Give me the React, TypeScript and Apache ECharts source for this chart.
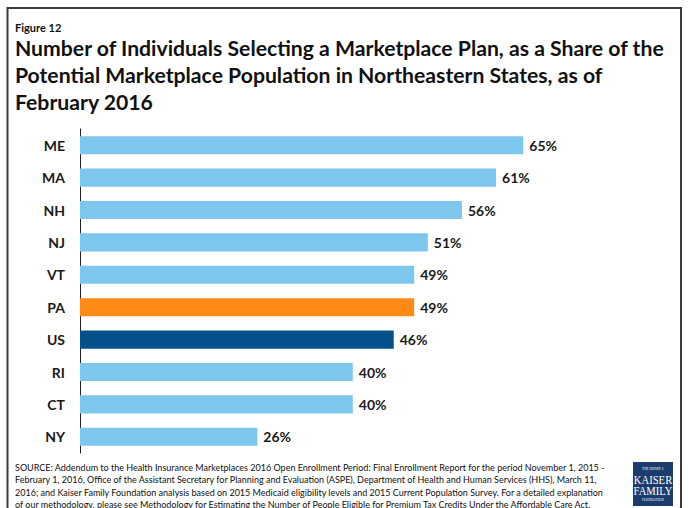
import React, { useEffect, useRef } from "react";
import * as echarts from "echarts";

const categories = ["ME", "MA", "NH", "NJ", "VT", "PA", "US", "RI", "CT", "NY"];
const values = [65, 61, 56, 51, 49, 49, 46, 40, 40, 26];
const highlightColors: Record<string, string> = { PA: "#fd8a14", US: "#03508a" };
const baseColor = "#7dc6ee";

const figureLabel = "Figure 12";
const titleLines = [
  "Number of Individuals Selecting a Marketplace Plan, as a Share of the",
  "Potential Marketplace Population in Northeastern States, as of",
  "February 2016",
];
const sourceLines = [
  "SOURCE: Addendum to the Health Insurance Marketplaces 2016 Open Enrollment Period: Final Enrollment Report for the period November 1, 2015 -",
  "February 1, 2016, Office of the Assistant Secretary for Planning and Evaluation (ASPE), Department of Health and Human Services (HHS), March 11,",
  "2016; and Kaiser Family Foundation analysis based on 2015 Medicaid eligibility levels and 2015 Current Population Survey. For a detailed explanation",
  "of our methodology, please see Methodology for Estimating the Number of People Eligible for Premium Tax Credits Under the Affordable Care Act.",
];
const logoLines = ["THE HENRY J.", "KAISER", "FAMILY", "FOUNDATION"];

const FONT = "Lato, 'Open Sans', sans-serif";
const SERIF = "'Liberation Serif', 'DejaVu Serif', serif";

export default function App() {
  const ref = useRef<HTMLDivElement>(null);
  useEffect(() => {
    if (!ref.current) return;
    const chart = echarts.init(ref.current, undefined, { renderer: "svg" });
    const graphic: any[] = [
      {
        type: "rect",
        shape: { x: 7.5, y: 8, width: 673.5, height: 520 },
        style: { fill: "none", stroke: "#3a3a3a", lineWidth: 2 },
        silent: true,
      },
      {
        type: "text",
        x: 15,
        y: 22,
        style: { text: figureLabel, font: `bold 11px ${FONT}`, fill: "#111" },
      },
      ...titleLines.map((t, i) => ({
        type: "text",
        x: 15,
        y: 37 + i * 27,
        style: { text: t, font: `bold 21.2px ${FONT}`, fill: "#111" },
      })),
      ...sourceLines.map((t, i) => ({
        type: "text",
        x: 15,
        y: 463 + i * 12.3,
        style: { text: t, font: `9px ${FONT}`, fill: "#111" },
      })),
      {
        type: "group",
        x: 633,
        y: 462,
        children: [
          { type: "rect", shape: { x: 0, y: 0, width: 40, height: 44 }, style: { fill: "#1d3c6e" } },
          { type: "text", x: 20, y: 5, scaleX: 0.85, style: { text: logoLines[0], font: `4px ${SERIF}`, fill: "#fff", align: "center" } },
          { type: "text", x: 20, y: 11.5, scaleX: 0.82, style: { text: logoLines[1], font: `13px ${SERIF}`, fill: "#fff", align: "center" } },
          { type: "text", x: 20, y: 22.5, scaleX: 0.82, style: { text: logoLines[2], font: `13px ${SERIF}`, fill: "#fff", align: "center" } },
          { type: "text", x: 20, y: 36, scaleX: 0.85, style: { text: logoLines[3], font: `4px ${SERIF}`, fill: "#fff", align: "center" } },
        ],
      },
    ];
    chart.setOption({
      animation: false,
      grid: { left: 80, top: 129, width: 545.6, height: 324, containLabel: false },
      xAxis: { type: "value", min: 0, max: 80, show: false },
      yAxis: {
        type: "category",
        data: categories,
        inverse: true,
        axisLine: { show: true, lineStyle: { color: "#222", width: 1 } },
        axisTick: { show: false },
        axisLabel: { margin: 15, fontFamily: FONT, fontWeight: "bold", fontSize: 14, color: "#1a1a1a" },
      },
      series: [
        {
          type: "bar",
          data: values.map((v, i) => ({
            value: v,
            itemStyle: { color: highlightColors[categories[i]] || baseColor },
          })),
          barCategoryGap: "44%",
          label: {
            show: true,
            position: "right",
            distance: 6,
            formatter: "{c}%",
            fontFamily: FONT,
            fontWeight: "bold",
            fontSize: 14,
            color: "#1a1a1a",
          },
        },
      ],
      graphic,
    });
    return () => chart.dispose();
  }, []);
  return <div ref={ref} style={{ position: "absolute", left: 0, top: 0, width: 689, height: 508 }} />;
}
